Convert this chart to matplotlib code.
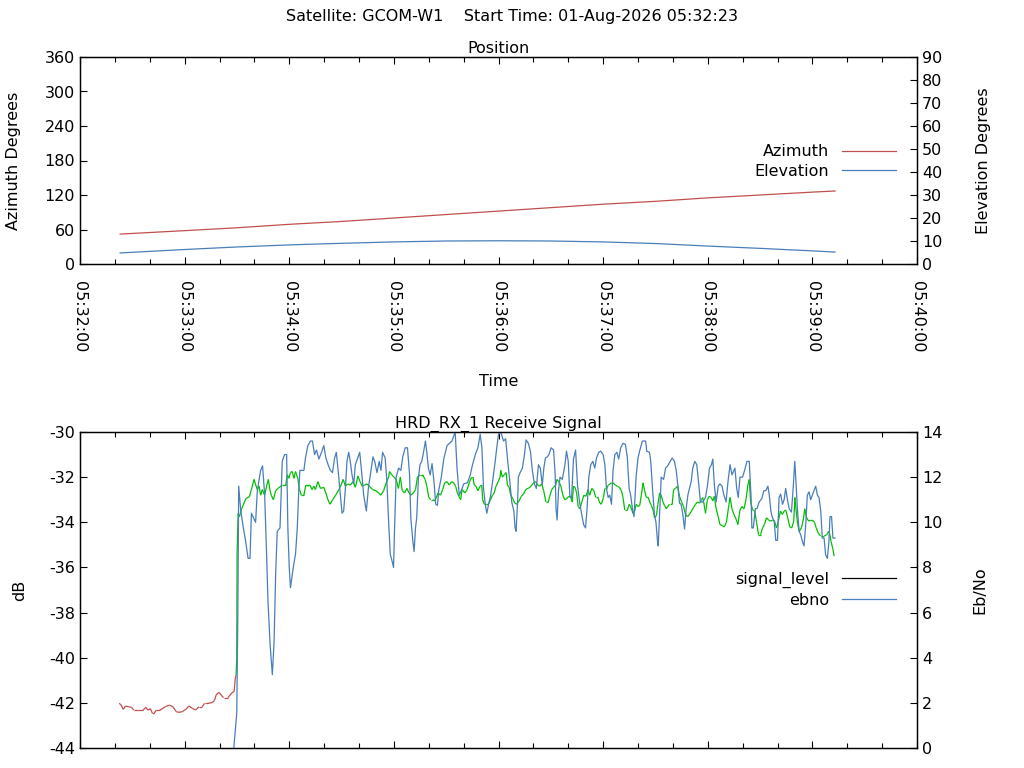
import matplotlib
matplotlib.use("Agg")
import matplotlib.pyplot as plt
import matplotlib.dates as mdates
from matplotlib.collections import LineCollection
from matplotlib.lines import Line2D
import numpy as np
import pandas as pd

satellite = "GCOM-W1"
start_time = "01-Aug-2026 05:32:23"
base = pd.Timestamp("2026-08-01 05:32:00")

# position, seconds after 05:32:00
pos_t = [23, 60, 90, 120, 150, 180, 210, 240, 270, 300, 330, 360, 390, 420, 433]
azimuth = [52, 58, 63, 69, 74, 80, 86, 92, 98, 104, 109, 115, 120, 125, 127]
elevation = [4.8, 6.3, 7.4, 8.3, 9.0, 9.6, 10.0, 10.1, 10.0, 9.6, 8.9, 7.8, 6.8, 5.7, 5.2]

# signal level (dB), seconds after 05:32:00
sig_t = [22.5, 23.6, 24.8, 26.1, 27.6, 29.5, 30.9, 33.3, 36.2, 37.7, 39.0, 40.4, 41.5, 42.5,
         43.8, 45.7, 47.6, 49.1, 51.4, 53.3, 55.2, 56.8, 58.7, 60.6, 62.5, 64.4, 66.3, 68.2,
         70.1, 71.4, 73.3, 75.8, 77.1, 78.1, 79.6, 80.9, 82.3, 84.8, 86.1, 87.2, 88.4, 88.7,
         89.1, 89.5, 89.9, 90.1, 90.7, 91.4, 92.7, 95.2, 97.1, 98.3, 99.8, 100.8, 101.7, 102.7,
         103.6, 104.5, 105.9, 107.0, 108.0, 109.0, 109.7, 110.9, 112.2, 113.5, 116.0, 118.0,
         118.9, 119.8, 120.7, 121.7, 122.7, 123.6, 124.9, 125.7, 126.9, 128.4, 129.5, 130.7,
         131.8, 133.1, 134.1, 135.0, 136.4, 137.9, 139.8, 141.0, 142.2, 143.3, 144.9, 146.6,
         148.5, 149.7, 150.9, 152.2, 153.5, 155.0, 156.6, 157.9, 159.4, 160.6, 161.9, 163.2,
         164.6, 165.9, 167.8, 169.7, 171.2, 172.6, 174.1, 175.6, 177.0, 177.5, 178.8, 180.1,
         181.3, 182.6, 183.7, 184.8, 186.1, 187.5, 188.7, 189.7, 191.2, 192.4, 193.5, 195.0,
         196.5, 197.9, 198.9, 200.0, 201.1, 202.4, 203.6, 205.3, 206.7, 208.0, 209.1, 210.5,
         211.8, 213.1, 214.3, 215.4, 216.4, 217.3, 218.3, 219.1, 220.7, 222.0, 223.4, 224.6,
         225.3, 226.1, 227.1, 228.1, 229.5, 230.4, 230.9, 231.9, 233.0, 234.2, 235.4, 236.6,
         237.5, 238.6, 239.8, 240.9, 241.3, 242.2, 243.2, 244.4, 245.1, 246.1, 247.0, 248.2,
         249.3, 250.5, 251.8, 253.1, 254.3, 255.6, 256.9, 258.0, 259.1, 260.2, 261.3, 262.5,
         263.7, 264.8, 265.9, 267.2, 268.5, 269.4, 270.5, 271.6, 272.8, 273.5, 274.6, 275.8,
         276.9, 278.0, 279.2, 280.3, 281.5, 282.3, 283.0, 283.9, 284.8, 285.7, 286.7, 287.8,
         288.9, 290.1, 291.4, 292.3, 293.5, 294.7, 295.8, 297.0, 298.1, 299.0, 300.2, 301.0,
         302.0, 303.0, 304.0, 304.8, 305.8, 306.9, 308.1, 309.3, 310.5, 311.4, 312.4, 313.9,
         315.0, 316.0, 317.1, 318.1, 319.0, 320.0, 321.0, 321.9, 322.9, 323.8, 324.8, 325.9,
         326.7, 327.7, 328.6, 329.5, 330.6, 331.4, 332.4, 333.3, 334.3, 335.2, 336.2, 338.1,
         339.6, 340.4, 341.5, 342.7, 343.8, 345.0, 346.1, 347.2, 348.4, 349.5, 350.7, 351.8,
         353.0, 354.1, 355.3, 356.4, 357.1, 357.9, 358.7, 359.8, 360.8, 362.0, 362.9, 363.8,
         364.8, 366.0, 367.0, 368.3, 369.5, 370.7, 371.8, 372.8, 373.9, 375.0, 376.2, 377.3,
         378.5, 379.6, 380.8, 381.9, 383.0, 383.8, 384.6, 385.7, 386.9, 388.0, 389.1, 390.3,
         391.4, 392.5, 393.7, 394.9, 396.0, 397.1, 398.3, 399.4, 400.5, 401.7, 402.8, 403.9,
         404.7, 405.9, 407.0, 408.2, 409.3, 410.0, 410.7, 411.6, 412.5, 413.7, 414.9, 415.6,
         416.7, 417.9, 418.9, 420.0, 421.2, 422.2, 423.5, 424.7, 425.8, 426.9, 428.2, 429.3,
         430.1, 430.7, 431.8, 432.5]
signal_level = [-42.02, -42.1, -42.29, -42.14, -42.17, -42.2, -42.32, -42.32, -42.32, -42.2,
                -42.32, -42.26, -42.46, -42.46, -42.32, -42.32, -42.24, -42.16, -42.1, -42.17,
                -42.39, -42.42, -42.39, -42.29, -42.14, -42.24, -42.32, -42.17, -42.17, -42.02,
                -42.02, -41.99, -41.9, -41.65, -41.53, -41.65, -41.77, -41.77, -41.65, -41.55,
                -41.5, -41.2, -40.9, -40.77, -40.0, -35.36, -33.6, -33.75, -33.4, -32.94, -32.87,
                -32.55, -32.1, -32.35, -32.55, -32.4, -32.8, -32.55, -32.8, -32.4, -32.1, -32.6,
                -32.8, -33.0, -32.6, -32.5, -32.35, -32.35, -31.9, -32.05, -31.8, -31.75, -32.05,
                -31.75, -32.05, -32.5, -32.8, -32.8, -32.35, -32.4, -32.35, -32.55, -32.4, -32.55,
                -32.2, -32.5, -32.45, -32.7, -33.0, -33.2, -33.0, -32.8, -32.55, -32.35, -32.1,
                -32.4, -32.3, -32.35, -32.2, -32.45, -31.95, -32.2, -32.4, -32.35, -32.3, -32.4,
                -32.55, -32.6, -32.7, -32.8, -32.6, -32.25, -32.0, -31.75, -31.9, -32.0, -32.1,
                -32.5, -32.0, -32.6, -32.7, -32.5, -32.7, -32.8, -32.7, -32.55, -32.0, -31.9,
                -31.9, -32.1, -32.4, -32.9, -33.0, -33.0, -33.05, -32.7, -32.8, -32.55, -32.25,
                -32.2, -32.35, -32.2, -32.25, -32.4, -32.7, -32.85, -33.0, -32.55, -32.7, -32.55,
                -32.2, -32.0, -32.0, -32.35, -32.4, -32.6, -32.4, -32.35, -33.0, -33.2, -33.2,
                -33.2, -33.0, -32.8, -32.7, -32.4, -32.2, -32.0, -31.7, -32.0, -31.9, -31.8,
                -32.35, -32.45, -32.8, -32.95, -33.15, -33.2, -33.05, -32.85, -32.75, -32.55,
                -32.5, -32.45, -32.35, -32.25, -32.2, -32.35, -32.4, -32.3, -32.6, -33.1, -33.1,
                -32.85, -32.55, -32.45, -32.35, -32.1, -32.2, -32.4, -32.8, -33.0, -32.95, -32.85,
                -32.9, -33.1, -32.4, -32.45, -32.7, -33.3, -33.4, -33.1, -32.8, -32.85, -32.55,
                -32.8, -32.5, -32.6, -32.9, -32.9, -33.15, -33.2, -32.9, -32.5, -32.5, -32.35,
                -32.3, -32.25, -32.25, -32.35, -32.4, -32.45, -32.6, -32.9, -33.45, -33.45, -33.2,
                -33.35, -33.6, -33.5, -33.2, -33.3, -33.25, -32.8, -32.25, -32.6, -32.9, -32.9,
                -33.1, -33.25, -33.45, -33.8, -33.7, -33.2, -32.7, -32.8, -33.1, -33.25, -33.4,
                -33.2, -33.2, -32.55, -32.5, -32.4, -32.85, -33.1, -33.3, -33.65, -33.75, -33.65,
                -33.5, -33.35, -33.2, -33.1, -33.15, -33.0, -32.9, -33.2, -33.6, -33.0, -32.85,
                -32.9, -33.05, -32.85, -33.4, -33.75, -34.1, -34.15, -34.2, -34.0, -33.4, -32.9,
                -33.4, -33.65, -33.85, -34.1, -33.45, -33.3, -33.4, -33.0, -32.35, -32.1, -33.1,
                -33.45, -33.5, -34.0, -34.55, -34.55, -34.25, -34.1, -33.8, -33.9, -33.95, -33.9,
                -33.95, -34.25, -33.95, -33.5, -33.65, -33.5, -33.45, -33.8, -34.2, -34.25, -33.95,
                -32.9, -33.5, -34.1, -34.4, -34.25, -33.85, -33.4, -33.8, -33.95, -33.9, -33.9,
                -34.0, -34.25, -34.5, -34.6, -34.6, -34.6, -34.55, -34.4, -34.55, -34.85, -35.2,
                -35.5]

# Eb/No, seconds after 05:32:00
ebno_t = [87.5, 88.2, 89.9, 90.5, 91.0, 92.2, 93.7, 95.0, 96.4, 97.5, 98.3, 100.7, 101.7, 103.6,
          104.7, 105.9, 107.0, 107.8, 109.0, 110.3, 111.3, 112.2, 113.1, 114.7, 116.0, 117.3,
          118.5, 119.2, 120.0, 120.7, 122.3, 123.6, 124.6, 125.5, 126.1, 128.4, 129.3, 130.7,
          132.2, 133.3, 134.5, 135.6, 137.0, 138.5, 139.8, 141.0, 142.3, 143.6, 144.8, 146.0,
          147.0, 148.4, 149.3, 150.3, 151.2, 152.2, 153.1, 154.1, 155.0, 156.0, 157.0, 157.9,
          159.3, 160.4, 161.3, 162.7, 164.2, 165.5, 166.9, 168.0, 169.0, 170.3, 171.6, 172.6,
          173.5, 175.0, 176.0, 177.0, 177.9, 178.9, 179.8, 180.4, 181.3, 182.7, 184.0, 185.1,
          186.5, 187.8, 189.0, 189.7, 190.9, 191.6, 192.4, 193.1, 194.1, 195.0, 196.0, 197.0,
          198.1, 198.9, 199.8, 200.8, 201.9, 203.0, 204.0, 205.0, 205.7, 207.2, 208.6, 210.5,
          213.3, 214.7, 215.2, 216.2, 217.5, 219.2, 220.0, 222.2, 223.8, 225.1, 226.7, 228.2,
          229.5, 230.5, 231.4, 232.4, 233.3, 234.3, 235.4, 236.6, 238.1, 239.0, 240.0, 241.3,
          242.9, 244.1, 245.3, 246.5, 247.6, 248.8, 249.5, 250.1, 251.0, 251.4, 252.4, 253.7,
          254.9, 255.8, 257.1, 258.3, 259.4, 260.6, 261.7, 262.9, 264.0, 265.1, 266.0, 266.9,
          268.0, 268.9, 270.2, 271.6, 272.5, 273.0, 273.6, 274.4, 275.3, 276.6, 278.1, 279.0,
          280.0, 280.9, 281.9, 283.0, 284.2, 285.3, 286.5, 287.6, 288.8, 289.9, 290.7, 291.8,
          292.9, 294.1, 295.2, 296.2, 297.5, 298.6, 300.0, 301.0, 301.9, 302.9, 303.8, 304.8,
          305.7, 306.7, 307.9, 308.9, 310.1, 311.4, 312.8, 313.9, 314.9, 315.8, 316.8, 317.7,
          318.9, 320.0, 320.9, 322.5, 324.4, 325.0, 326.6, 327.3, 328.4, 329.4, 330.3, 331.2,
          331.6, 332.4, 333.3, 334.7, 335.8, 337.0, 338.5, 339.6, 340.9, 341.9, 342.9, 343.8,
          344.7, 345.7, 346.7, 347.6, 348.6, 349.5, 350.5, 351.4, 352.6, 353.7, 354.9, 355.8,
          357.2, 358.7, 359.8, 361.0, 362.1, 362.9, 363.8, 364.8, 366.0, 367.0, 368.2, 369.3,
          370.5, 371.6, 372.8, 373.9, 374.7, 375.6, 376.6, 377.5, 378.5, 380.0, 381.3, 382.5,
          383.8, 384.8, 385.3, 386.1, 387.3, 388.2, 389.5, 391.0, 392.2, 393.3, 394.5, 395.3,
          396.2, 397.1, 398.1, 399.0, 400.0, 400.9, 401.8, 402.9, 403.8, 404.7, 405.7, 406.7,
          408.0, 409.1, 409.9, 410.7, 411.4, 412.4, 413.3, 414.3, 415.2, 416.2, 417.1, 418.1,
          419.0, 420.0, 420.9, 421.9, 422.9, 423.8, 424.8, 425.7, 426.7, 427.6, 428.6, 429.5,
          430.1, 431.0, 431.8, 433.0]
ebno = [-1.0, 0.0, 1.55, 5.8, 11.6, 10.5, 9.75, 9.15, 8.4, 8.4, 10.4, 10.0, 11.4, 12.3, 12.5,
        11.2, 8.6, 6.5, 4.6, 3.25, 4.7, 7.7, 9.6, 9.75, 12.7, 13.0, 13.0, 9.75, 8.0, 7.1, 8.0,
        8.6, 9.75, 11.5, 12.3, 12.3, 12.85, 13.4, 13.6, 13.6, 13.0, 13.2, 12.8, 13.1, 13.4,
        12.85, 12.55, 12.3, 12.2, 12.85, 13.1, 12.0, 11.2, 10.4, 10.5, 11.5, 12.7, 13.1, 12.7,
        12.1, 11.7, 12.55, 12.85, 13.1, 12.4, 11.2, 10.5, 11.6, 12.3, 12.9, 12.7, 12.2, 12.7,
        12.3, 13.1, 12.85, 11.8, 10.0, 8.6, 8.3, 8.0, 9.75, 12.0, 12.4, 12.3, 12.9, 13.3, 13.3,
        12.1, 10.2, 9.15, 8.7, 9.75, 10.2, 12.0, 12.55, 12.7, 13.1, 13.6, 13.1, 12.4, 12.1,
        12.6, 11.8, 10.8, 10.75, 11.4, 12.0, 12.8, 13.4, 13.6, 13.9, 13.95, 12.4, 11.2, 11.5,
        11.7, 11.75, 12.1, 12.55, 13.0, 13.3, 13.9, 13.3, 11.5, 10.8, 10.4, 10.8, 11.15, 11.8,
        12.7, 13.3, 13.9, 14.0, 13.6, 13.7, 12.7, 11.8, 10.9, 10.5, 9.75, 9.6, 11.0, 12.0,
        12.2, 12.4, 13.0, 13.65, 13.5, 13.15, 12.3, 11.7, 11.5, 12.55, 12.4, 11.65, 12.4,
        12.85, 12.9, 13.0, 13.3, 13.2, 12.1, 10.6, 10.1, 11.4, 12.0, 11.9, 12.55, 13.15, 12.7,
        11.2, 11.05, 12.8, 13.2, 11.65, 10.9, 10.4, 9.9, 9.75, 10.5, 12.0, 12.55, 12.7, 12.4,
        12.85, 13.1, 13.15, 13.0, 12.55, 11.5, 11.1, 11.2, 10.8, 12.3, 13.0, 13.1, 12.8, 13.3,
        13.5, 13.45, 12.85, 11.5, 11.2, 10.6, 10.25, 12.0, 12.85, 13.15, 13.6, 13.6, 13.15,
        13.1, 12.7, 11.4, 10.35, 10.0, 9.15, 8.95, 10.4, 12.0, 11.9, 12.4, 12.5, 12.7, 12.85,
        12.7, 12.3, 11.6, 10.85, 10.8, 10.35, 9.7, 10.6, 11.2, 11.5, 11.8, 12.4, 12.7, 12.55,
        11.65, 10.9, 10.9, 11.1, 11.6, 12.4, 12.55, 12.8, 11.65, 10.9, 11.6, 11.7, 11.6, 11.2,
        10.9, 11.8, 12.55, 12.1, 12.25, 12.4, 11.5, 11.1, 12.0, 12.0, 12.35, 12.7, 12.7, 11.2,
        9.75, 9.75, 10.6, 10.6, 10.9, 11.05, 11.4, 11.4, 11.6, 11.2, 10.5, 10.2, 10.05, 9.2,
        9.2, 11.1, 11.25, 10.8, 11.0, 11.5, 11.0, 10.6, 10.45, 11.65, 12.7, 11.65, 10.6, 9.6,
        9.45, 9.15, 8.95, 9.9, 11.2, 11.35, 11.0, 11.2, 11.4, 11.6, 11.2, 11.1, 10.5, 9.3, 9.3,
        8.55, 8.4, 9.15, 10.25, 10.25, 9.3, 9.3]

RED = "#c0504d"
GREEN = "#00c000"
BLUE = "#4a7ebb"


def to_time(secs):
    return mdates.date2num(base + pd.to_timedelta(np.asarray(secs), unit="s"))


def style_time_axis(ax):
    ax.set_xlim(to_time([0])[0], to_time([480])[0])
    ax.xaxis.set_major_locator(mdates.MinuteLocator())
    ax.xaxis.set_minor_locator(mdates.SecondLocator(bysecond=[20, 40]))
    ax.xaxis.set_major_formatter(mdates.DateFormatter("%H:%M:%S"))
    ax.tick_params(axis="x", which="both", direction="in", top=True)
    ax.tick_params(axis="x", which="major", length=4.8, width=0.8)
    ax.tick_params(axis="x", which="minor", length=3.4, width=0.8)


plt.rcParams["font.family"] = ["DejaVu Sans"]
plt.rcParams["font.size"] = 11.5
plt.rcParams["axes.linewidth"] = 0.9
plt.rcParams["axes.unicode_minus"] = False

fig = plt.figure(figsize=(10.24, 7.68), dpi=100)
fig.text(0.5, 1 - 17 / 768, "Satellite: %s    Start Time: %s" % (satellite, start_time),
         ha="center", va="center")

# --- position plot ---
ax1 = fig.add_axes([80 / 1024, 1 - 264 / 768, 837 / 1024, 207 / 768])
ax1b = ax1.twinx()
ax1.plot(to_time(pos_t), azimuth, color=RED, lw=0.9, label="Azimuth")
ax1b.plot(to_time(pos_t), elevation, color=BLUE, lw=0.9, label="Elevation")
ax1.set_ylim(0, 360)
ax1.set_yticks(np.arange(0, 361, 60))
ax1b.set_ylim(0, 90)
ax1b.set_yticks(np.arange(0, 91, 10))
style_time_axis(ax1)
for lab in ax1.get_xticklabels():
    lab.set_rotation(-90)
ax1.tick_params(axis="x", pad=12)
ax1.tick_params(axis="y", direction="in", length=4.8, width=0.8)
ax1b.tick_params(axis="y", direction="in", length=4.8, width=0.8)
ax1.set_ylabel("Azimuth Degrees", labelpad=17)
ax1b.set_ylabel("Elevation Degrees", labelpad=24)
ax1.set_xlabel("Time", labelpad=16)
ax1.set_title("Position", fontsize=11.5, pad=3)
h1, l1 = ax1.get_legend_handles_labels()
h2, l2 = ax1b.get_legend_handles_labels()
ax1b.legend(h1 + h2, l1 + l2, loc="center right", bbox_to_anchor=(0.983, 0.495),
            frameon=False, markerfirst=False, handlelength=3.4, labelspacing=0.3,
            handletextpad=0.8, borderaxespad=0)

# --- receive signal plot ---
ax2 = fig.add_axes([80 / 1024, 1 - 748 / 768, 837 / 1024, 316 / 768])
ax2b = ax2.twinx()
sx = to_time(sig_t)
sy = np.asarray(signal_level)
pts = np.column_stack([sx, sy]).reshape(-1, 1, 2)
segs = np.concatenate([pts[:-1], pts[1:]], axis=1)
seg_cols = [RED if max(a, b) < -40.5 else GREEN for a, b in zip(sy[:-1], sy[1:])]
ax2.add_collection(LineCollection(segs, colors=seg_cols, linewidths=0.9))
ax2b.plot(to_time(ebno_t), ebno, color=BLUE, lw=0.9)
ax2.set_ylim(-44, -30)
ax2.set_yticks(np.arange(-44, -29, 2))
ax2b.set_ylim(0, 14)
ax2b.set_yticks(np.arange(0, 15, 2))
style_time_axis(ax2)
ax2.tick_params(axis="x", labelbottom=False)
ax2.tick_params(axis="y", direction="in", length=4.8, width=0.8)
ax2b.tick_params(axis="y", direction="in", length=4.8, width=0.8)
ax2.set_ylabel("dB", labelpad=16)
ax2b.set_ylabel("Eb/No", labelpad=22)
ax2.set_title("HRD_RX_1 Receive Signal", fontsize=11.5, pad=3)
proxies = [Line2D([], [], color="black", lw=0.9), Line2D([], [], color=BLUE, lw=0.9)]
ax2b.legend(proxies, ["signal_level", "ebno"], loc="center right",
            bbox_to_anchor=(0.983, 0.5), frameon=False, markerfirst=False,
            handlelength=3.4, labelspacing=0.3, handletextpad=0.8, borderaxespad=0)

fig.savefig("out.png", dpi=100)
